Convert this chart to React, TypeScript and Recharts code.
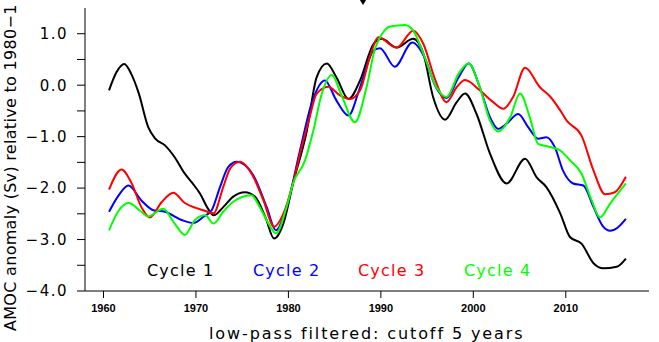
import { Line, LineChart, XAxis, YAxis } from "recharts";

// knot points (year, Sv) for each low-pass filtered cycle
const cycle1Years = [
  1960.6, 1961.4, 1962.25, 1963.0, 1963.8, 1964.85, 1965.6, 1966.65, 1967.7, 1968.8,
  1969.6, 1970.45, 1971.3, 1971.9, 1972.95, 1974.0, 1975.3, 1976.4, 1977.5, 1978.45,
  1979.45, 1980.5, 1982.0, 1983.05, 1984.15, 1985.2, 1986.5, 1987.75, 1989.2, 1990.1,
  1991.7, 1993.5, 1994.6, 1995.65, 1996.95, 1998.2, 1999.1, 2000.35, 2001.8, 2003.6,
  2005.6, 2006.85, 2007.9, 2009.4, 2010.45, 2011.7, 2013.0, 2014.05, 2015.5, 2016.5,
];
const cycle1Values = [
  -0.1, 0.25, 0.41, 0.22, -0.15, -0.82, -1.04, -1.17, -1.4, -1.72,
  -1.9, -2.11, -2.4, -2.53, -2.37, -2.17, -2.08, -2.17, -2.56, -2.98,
  -2.69, -1.91, -0.88, 0.15, 0.42, 0.15, -0.27, 0.09, 0.8, 0.9,
  0.73, 0.9, 0.61, -0.23, -0.67, -0.33, -0.16, -0.56, -1.33, -1.91,
  -1.43, -1.79, -1.98, -2.49, -2.95, -3.08, -3.46, -3.56, -3.53, -3.37,
];

const cycle2Years = [
  1960.6, 1961.6, 1962.7, 1964.1, 1965.4, 1966.65, 1968.45, 1969.7, 1970.8, 1971.7,
  1972.6, 1973.5, 1974.4, 1976.2, 1977.65, 1978.65, 1979.8, 1981.25, 1982.5, 1983.95,
  1985.2, 1986.5, 1987.75, 1989.2, 1989.9, 1991.5, 1993.4, 1994.8, 1995.85, 1997.1,
  1998.4, 1999.5, 2000.7, 2001.8, 2002.7, 2003.6, 2004.85, 2005.95, 2007.0, 2007.9,
  2008.8, 2009.7, 2010.8, 2011.9, 2013.0, 2014.05, 2014.8, 2015.6, 2016.5,
];
const cycle2Values = [
  -2.46, -2.15, -1.95, -2.24, -2.43, -2.46, -2.62, -2.68, -2.56, -2.43,
  -1.98, -1.59, -1.49, -1.75, -2.37, -2.82, -2.37, -1.27, -0.36, 0.09,
  -0.3, -0.59, -0.04, 0.67, 0.72, 0.36, 0.83, 0.51, 0.0, -0.25,
  0.15, 0.42, -0.04, -0.62, -0.85, -0.75, -0.56, -0.82, -1.04, -1.01,
  -1.2, -1.66, -1.91, -1.95, -2.37, -2.75, -2.83, -2.77, -2.6,
];

const cycle3Years = [
  1960.6, 1961.95, 1963.05, 1964.1, 1965.0, 1966.3, 1967.55, 1968.8, 1969.9, 1970.8,
  1971.9, 1972.95, 1973.7, 1974.75, 1976.2, 1977.3, 1978.45, 1979.45, 1980.5, 1981.3,
  1982.2, 1983.05, 1984.3, 1985.6, 1986.65, 1987.75, 1988.8, 1989.7, 1991.7, 1993.5,
  1994.6, 1995.85, 1997.1, 1998.2, 1999.1, 2000.7, 2002.15, 2003.25, 2004.3, 2005.6,
  2007.2, 2008.3, 2009.4, 2010.1, 2011.7, 2013.0, 2014.25, 2015.3, 2016.5,
];
const cycle3Values = [
  -2.03, -1.64, -1.91, -2.37, -2.57, -2.27, -2.09, -2.29, -2.38, -2.43,
  -2.49, -1.98, -1.62, -1.49, -1.78, -2.24, -2.75, -2.5, -1.9, -1.3,
  -0.69, -0.17, -0.03, -0.2, -0.27, -0.1, 0.54, 0.93, 0.73, 1.06,
  0.8, 0.12, -0.33, -0.04, 0.1, -0.1, -0.33, -0.46, -0.23, 0.34,
  -0.04, -0.22, -0.49, -0.69, -0.98, -1.66, -2.12, -2.08, -1.78,
];

const cycle4Years = [
  1960.6, 1961.6, 1962.7, 1964.1, 1964.85, 1966.45, 1967.7, 1968.8, 1969.9, 1971.0,
  1971.9, 1972.95, 1974.0, 1976.0, 1976.9, 1977.85, 1978.65, 1979.8, 1980.5, 1981.8,
  1982.7, 1983.6, 1984.7, 1985.75, 1987.2, 1988.45, 1989.35, 1990.1, 1991.0, 1992.6,
  1993.5, 1994.6, 1996.0, 1997.1, 1998.4, 1999.5, 2000.7, 2001.8, 2002.7, 2004.0,
  2005.05, 2006.1, 2007.0, 2008.3, 2009.4, 2010.45, 2011.7, 2012.8, 2013.7, 2014.8,
  2016.5,
];
const cycle4Values = [
  -2.82, -2.45, -2.29, -2.46, -2.55, -2.4, -2.69, -2.91, -2.62, -2.53,
  -2.69, -2.46, -2.27, -2.14, -2.37, -2.69, -2.88, -2.37, -1.91, -1.46,
  -0.88, -0.17, 0.2, -0.2, -0.72, -0.04, 0.7, 0.99, 1.14, 1.17,
  1.06, 0.61, -0.04, -0.23, 0.22, 0.42, -0.04, -0.69, -0.9, -0.62,
  -0.16, -0.62, -1.14, -1.2, -1.27, -1.46, -1.72, -2.24, -2.57, -2.3,
  -1.91,
];

const seriesNames = ["Cycle 1", "Cycle 2", "Cycle 3", "Cycle 4"];
const seriesColors = ["#000000", "#0000ff", "#ff0000", "#00ff00"];

const xTicks = [1960, 1970, 1980, 1990, 2000, 2010];
const yTicks = [-4, -3.5, -3, -2.5, -2, -1.5, -1, -0.5, 0, 0.5, 1];

const toPoints = (years: number[], values: number[]) =>
  years.map((year, i) => ({ year, value: values[i] }));

const series = [
  toPoints(cycle1Years, cycle1Values),
  toPoints(cycle2Years, cycle2Values),
  toPoints(cycle3Years, cycle3Values),
  toPoints(cycle4Years, cycle4Values),
];

const FONT = "'DejaVu Sans', sans-serif";

const yLabel = (v: number) =>
  Number.isInteger(v) ? v.toFixed(1).replace("-", "\u2212") : "";

// legend text x positions inside the plot
const legendX = [147, 253, 358, 464];

export default function App() {
  return (
    <div style={{ position: "absolute", left: 0, top: 0, width: 659, height: 342, background: "#fff" }}>
      <LineChart width={659} height={342} margin={{ top: 8, right: 10, bottom: 0, left: 0 }}>
        <XAxis
          xAxisId="b"
          type="number"
          dataKey="year"
          domain={[1958, 2019]}
          ticks={xTicks}
          allowDataOverflow
          height={51}
          tickSize={7}
          tickMargin={6}
          stroke="#000"
          tick={{ fontSize: 11, fontWeight: "bold", fill: "#000", fontFamily: "'Liberation Sans', sans-serif" }}
        />
        <XAxis
          xAxisId="t"
          orientation="top"
          type="number"
          dataKey="year"
          domain={[1958, 2019]}
          ticks={xTicks}
          allowDataOverflow
          height={0}
          tickSize={7}
          tick={false}
          stroke="#000"
        />
        <YAxis
          yAxisId="l"
          type="number"
          domain={[-4, 1.5]}
          ticks={yTicks}
          allowDataOverflow
          width={85}
          tickSize={8}
          tickMargin={9}
          interval={0}
          tickFormatter={yLabel}
          stroke="#000"
          tick={{ fontSize: 15, fill: "#000", fontFamily: FONT, letterSpacing: 1.5 }}
        />
        <YAxis
          yAxisId="r"
          orientation="right"
          type="number"
          domain={[-4, 1.5]}
          ticks={yTicks}
          allowDataOverflow
          width={0}
          tickSize={8}
          interval={0}
          tick={false}
          stroke="#000"
        />
        {series.map((pts, i) => (
          <Line
            key={seriesNames[i]}
            xAxisId="b"
            yAxisId="l"
            data={pts}
            dataKey="value"
            name={seriesNames[i]}
            type="monotone"
            stroke={seriesColors[i]}
            strokeWidth={2}
            dot={false}
            isAnimationActive={false}
          />
        ))}
      </LineChart>
      <svg
        width={659}
        height={342}
        style={{ position: "absolute", left: 0, top: 0, pointerEvents: "none" }}
        fontFamily={FONT}
      >
        {seriesNames.map((name, i) => (
          <text key={name} x={legendX[i]} y={276} fontSize={16} letterSpacing={1.2} fill={seriesColors[i]}>
            {name}
          </text>
        ))}
        <text x={209} y={339} fontSize={16} letterSpacing={1.9} fill="#000">
          low-pass filtered: cutoff 5 years
        </text>
        <text
          transform="translate(16, 331) rotate(-90)"
          fontSize={16}
          letterSpacing={0.3}
          fill="#000"
        >
          AMOC anomaly (Sv) relative to 1980{"\u2212"}1
        </text>
        {/* marker above the top axis */}
        <polygon points="358,-3 368,-3 363,5" fill="#000" />
      </svg>
    </div>
  );
}
